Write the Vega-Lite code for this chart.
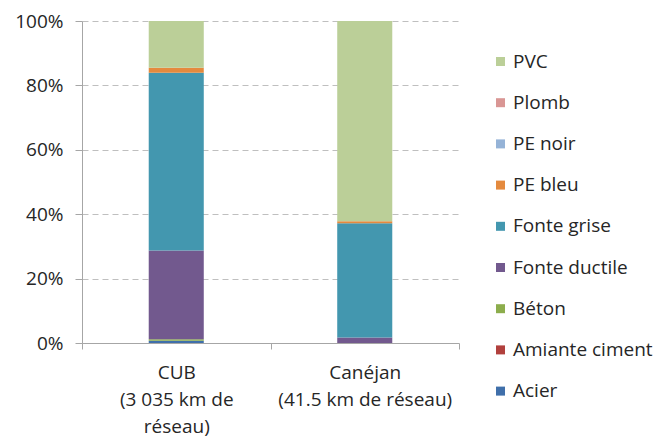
{
  "$schema": "https://vega.github.io/schema/vega-lite/v6.json",
  "width": 377,
  "height": 322,
  "autosize": {"type": "none"},
  "padding": {"left": 82, "top": 21, "right": 201, "bottom": 95},
  "background": "white",
  "config": {
    "view": {"stroke": null},
    "font": "Open Sans",
    "axis": {"labelFont": "Open Sans", "labelColor": "#262626", "labelFontSize": 19},
    "legend": {"labelFont": "Open Sans"}
  },
  "data": {
    "values": [
      {"site": "CUB", "material": "Acier", "share": 0.007},
      {"site": "CUB", "material": "Béton", "share": 0.005},
      {"site": "CUB", "material": "Fonte ductile", "share": 0.275},
      {"site": "CUB", "material": "Fonte grise", "share": 0.552},
      {"site": "CUB", "material": "PE bleu", "share": 0.016},
      {"site": "CUB", "material": "PVC", "share": 0.145},
      {"site": "Canéjan", "material": "Fonte ductile", "share": 0.017},
      {"site": "Canéjan", "material": "Fonte grise", "share": 0.355},
      {"site": "Canéjan", "material": "PE bleu", "share": 0.006},
      {"site": "Canéjan", "material": "PVC", "share": 0.622}
    ]
  },
  "mark": {"type": "bar", "width": {"band": 0.292}},
  "encoding": {
    "x": {
      "field": "site",
      "type": "nominal",
      "sort": ["CUB", "Canéjan"],
      "scale": {"paddingInner": 0, "paddingOuter": 0},
      "axis": {
        "title": null,
        "labelAngle": 0,
        "tickBand": "extent",
        "ticks": true,
        "tickSize": 6,
        "tickColor": "#A6A6A6",
        "domainColor": "#A6A6A6",
        "labelPadding": 14,
        "labelLineHeight": 27,
        "labelBaseline": "top",
        "labelExpr": "datum.value == 'CUB' ? ['CUB', '(3 035 km de', 'réseau)'] : (datum.value == 'Canéjan' ? ['Canéjan', '(41.5 km de réseau)'] : '')"
      }
    },
    "y": {
      "field": "share",
      "type": "quantitative",
      "stack": "zero",
      "scale": {"domain": [0, 1], "nice": false},
      "axis": {
        "title": null,
        "format": ".0%",
        "values": [0, 0.2, 0.4, 0.6, 0.8, 1],
        "tickSize": 7,
        "tickColor": "#A6A6A6",
        "domainColor": "#A6A6A6",
        "labelPadding": 12,
        "grid": true,
        "gridDash": [6, 4],
        "gridColor": "#BFBFBF"
      }
    },
    "color": {
      "field": "material",
      "type": "nominal",
      "scale": {
        "domain": ["PVC", "Plomb", "PE noir", "PE bleu", "Fonte grise", "Fonte ductile", "Béton", "Amiante ciment", "Acier"],
        "range": ["#BBCF98", "#D99694", "#95B3D7", "#E48A3E", "#4397AF", "#72598E", "#8CAD4C", "#B1403D", "#3F6FAA"]
      },
      "legend": {
        "title": null,
        "orient": "none",
        "legendX": 409,
        "legendY": 31,
        "padding": 0,
        "symbolType": "square",
        "symbolSize": 81,
        "symbolStrokeWidth": 0,
        "labelFontSize": 19,
        "labelColor": "#262626",
        "labelOffset": 3,
        "rowPadding": 21.2
      }
    },
    "order": {"field": "material", "sort": "ascending"}
  }
}
